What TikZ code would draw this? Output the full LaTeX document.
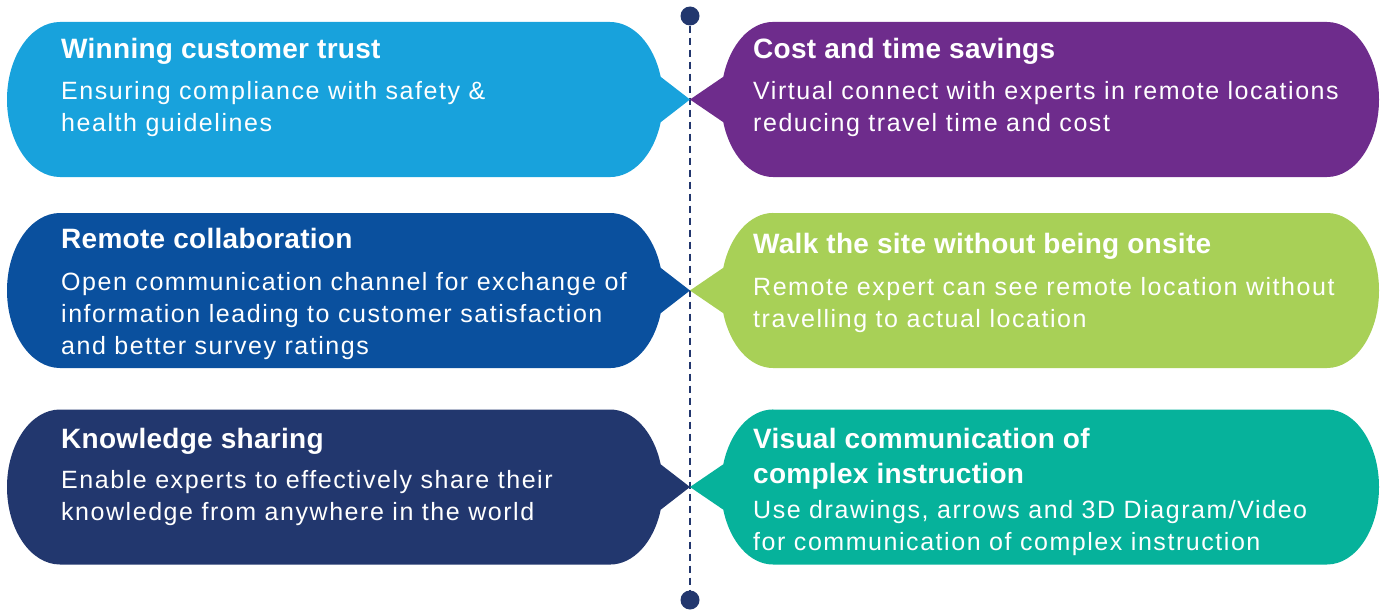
\documentclass[tikz,border=0pt]{standalone}
\usepackage{fontspec}
\setmainfont{Liberation Sans}
\newfontfamily\headfont[LetterSpace=1]{Liberation Sans}
\newfontfamily\bodyfont[LetterSpace=6.2]{Liberation Sans}
\definecolor{trust}{RGB}{24,162,220}
\definecolor{remote}{RGB}{10,80,158}
\definecolor{knowledge}{RGB}{34,55,110}
\definecolor{cost}{RGB}{110,44,140}
\definecolor{walk}{RGB}{168,208,87}
\definecolor{visual}{RGB}{6,178,155}
\definecolor{navy}{RGB}{34,55,110}
\tikzset{
  head/.style={anchor=base west, inner sep=0pt, text=white, align=left,
    font=\headfont\bfseries\fontsize{28}{35}\selectfont},
  body/.style={anchor=base west, inner sep=0pt, text=white, align=left,
    font=\bodyfont\fontsize{25}{32}\selectfont},
  dot/.style={circle, fill=navy, minimum size=19pt, inner sep=0pt},
  guide/.style={navy, line width=1.6pt, dash pattern=on 7pt off 5pt},
}
% bubble pointing right to the middle line: colour, centre y
\newcommand{\bubbleleft}[2]{%
  \fill[#1] (60,#2+77.5) -- (610,#2+77.5)
    arc[start angle=90, end angle=17, x radius=53, y radius=77.5]
    -- (690,#2) -- (660.7,#2-22.7)
    arc[start angle=-17, end angle=-90, x radius=53, y radius=77.5]
    -- (60,#2-77.5)
    arc[start angle=270, end angle=90, x radius=53, y radius=77.5] -- cycle;}
% bubble pointing left to the middle line: colour, centre y
\newcommand{\bubbleright}[2]{%
  \fill[#1] (773,#2+77.5) -- (1327,#2+77.5)
    arc[start angle=90, end angle=-90, x radius=52, y radius=77.5]
    -- (773,#2-77.5)
    arc[start angle=270, end angle=197, x radius=52, y radius=77.5]
    -- (690,#2) -- (723.3,#2+22.7)
    arc[start angle=163, end angle=90, x radius=52, y radius=77.5] -- cycle;}

\begin{document}
\begin{tikzpicture}[x=1pt, y=1pt]
  \useasboundingbox (0,0) rectangle (1387,-610);

  % middle line
  \node[dot] (top) at (690,-16) {};
  \node[dot] (bottom) at (690,-600) {};
  \draw[guide] (top) -- (bottom);

  \bubbleleft{trust}{-99.5}
  \bubbleleft{remote}{-290.5}
  \bubbleleft{knowledge}{-487}
  \bubbleright{cost}{-99.5}
  \bubbleright{walk}{-290.5}
  \bubbleright{visual}{-487}

  % left column (body nodes sit on their last baseline)
  \node[head] (T1) at (61,-59) {Winning customer trust};
  \node[body] (B1) at (61,-131) {Ensuring compliance with safety \&\\health guidelines};
  \node[head] (T2) at (61,-248) {Remote collaboration};
  \node[body] (B2) at (61,-354) {Open communication channel for exchange of\\information leading to customer satisfaction\\and better survey ratings};
  \node[head] (T3) at (61,-448) {Knowledge sharing};
  \node[body] (B3) at (61,-520) {Enable experts to effectively share their\\knowledge from anywhere in the world};

  % right column
  \node[head] (T4) at (753,-59) {Cost and time savings};
  \node[body] (B4) at (753,-131) {Virtual connect with experts in remote locations\\reducing travel time and cost};
  \node[head] (T5) at (753,-253) {Walk the site without being onsite};
  \node[body] (B5) at (753,-327) {Remote expert can see remote location without\\travelling to actual location};
  \node[head] (T6) at (753,-483) {Visual communication of\\complex instruction};
  \node[body] (B6) at (753,-550) {Use drawings, arrows and 3D Diagram/Video\\for communication of complex instruction};
\end{tikzpicture}
\end{document}
